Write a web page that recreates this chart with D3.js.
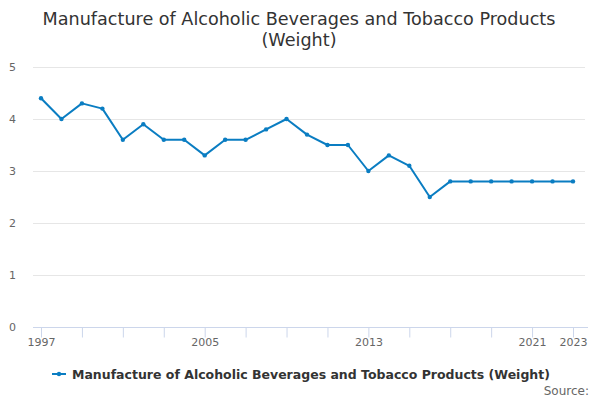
<!DOCTYPE html>
<html>
<head>
<meta charset="utf-8">
<script src="https://cdn.jsdelivr.net/npm/d3@7"></script>
<style>
  body { margin: 0; background: #fff; }
  svg { font-family: "DejaVu Sans", sans-serif; }
</style>
</head>
<body>
<svg width="600" height="400"></svg>
<script>
const years = [1997, 1998, 1999, 2000, 2001, 2002, 2003, 2004, 2005, 2006, 2007, 2008, 2009,
  2010, 2011, 2012, 2013, 2014, 2015, 2016, 2017, 2018, 2019, 2020, 2021, 2022, 2023];
const weights = [4.4, 4.0, 4.3, 4.2, 3.6, 3.9, 3.6, 3.6, 3.3, 3.6, 3.6, 3.8, 4.0,
  3.7, 3.5, 3.5, 3.0, 3.3, 3.1, 2.5, 2.8, 2.8, 2.8, 2.8, 2.8, 2.8, 2.8];
const yTicks = [0, 1, 2, 3, 4, 5];
const xTicks = [1997, 1999, 2001, 2003, 2005, 2007, 2009, 2011, 2013, 2015, 2017, 2019, 2021, 2023];
const xLabels = [1997, 2005, 2013, 2021, 2023];
const seriesName = 'Manufacture of Alcoholic Beverages and Tobacco Products (Weight)';

const COLOR = '#0a7dc2';
const svg = d3.select('svg');

const plotLeft = 33, plotRight = 585, plotTop = 67, plotBottom = 327;

const x = d3.scaleLinear().domain([1997, 2023]).range([41, 573]);
const y = d3.scaleLinear().domain([0, 5]).range([plotBottom, plotTop]);

// title
svg.append('text')
  .attr('x', 299).attr('y', 25)
  .attr('text-anchor', 'middle')
  .attr('font-size', 17.6).attr('fill', '#333')
  .text('Manufacture of Alcoholic Beverages and Tobacco Products');
svg.append('text')
  .attr('x', 299).attr('y', 46)
  .attr('text-anchor', 'middle')
  .attr('font-size', 17.6).attr('fill', '#333')
  .text('(Weight)');

// gridlines
svg.append('g')
  .selectAll('line')
  .data(yTicks.filter(t => t > 0))
  .enter()
  .append('line')
  .attr('x1', plotLeft).attr('x2', plotRight)
  .attr('y1', d => y(d) + 0.5).attr('y2', d => y(d) + 0.5)
  .attr('stroke', '#e6e6e6');

// y labels
svg.append('g')
  .selectAll('text')
  .data(yTicks)
  .enter()
  .append('text')
  .attr('x', 16)
  .attr('y', d => y(d) + 4)
  .attr('text-anchor', 'end')
  .attr('font-size', 11).attr('fill', '#666')
  .text(d => d);

// x axis
const xAxis = d3.axisBottom(x)
  .tickValues(xTicks)
  .tickSize(10)
  .tickFormat(d => xLabels.includes(d) ? d : '');
const gx = svg.append('g')
  .attr('transform', `translate(0,${plotBottom + 0.5})`)
  .call(xAxis);
gx.select('.domain').remove();
gx.append('line')
  .attr('x1', plotLeft).attr('x2', plotRight + 3)
  .attr('stroke', '#ccd6eb');
gx.selectAll('.tick line').attr('stroke', '#ccd6eb');
gx.selectAll('.tick text')
  .attr('font-family', '"DejaVu Sans", sans-serif')
  .attr('font-size', 11).attr('fill', '#666')
  .attr('dy', 0).attr('y', 18);

// line
const line = d3.line()
  .x((d, i) => x(years[i]))
  .y(d => y(d));
svg.append('path')
  .datum(weights)
  .attr('d', line)
  .attr('fill', 'none')
  .attr('stroke', COLOR)
  .attr('stroke-width', 2)
  .attr('stroke-linejoin', 'round');

svg.append('g')
  .selectAll('circle')
  .data(weights)
  .enter()
  .append('circle')
  .attr('cx', (d, i) => x(years[i]))
  .attr('cy', d => y(d))
  .attr('r', 2.2)
  .attr('fill', COLOR);

// legend
const legend = svg.append('g');
legend.append('line')
  .attr('x1', 52).attr('x2', 66)
  .attr('y1', 374).attr('y2', 374)
  .attr('stroke', COLOR).attr('stroke-width', 2);
legend.append('circle')
  .attr('cx', 59).attr('cy', 374).attr('r', 2.2)
  .attr('fill', COLOR);
legend.append('text')
  .attr('x', 72).attr('y', 379)
  .attr('font-size', 12.5).attr('font-weight', 'bold').attr('fill', '#333')
  .text(seriesName);

// source
svg.append('text')
  .attr('x', 589).attr('y', 395)
  .attr('text-anchor', 'end')
  .attr('font-size', 12).attr('fill', '#666')
  .text('Source:');
</script>
</body>
</html>
